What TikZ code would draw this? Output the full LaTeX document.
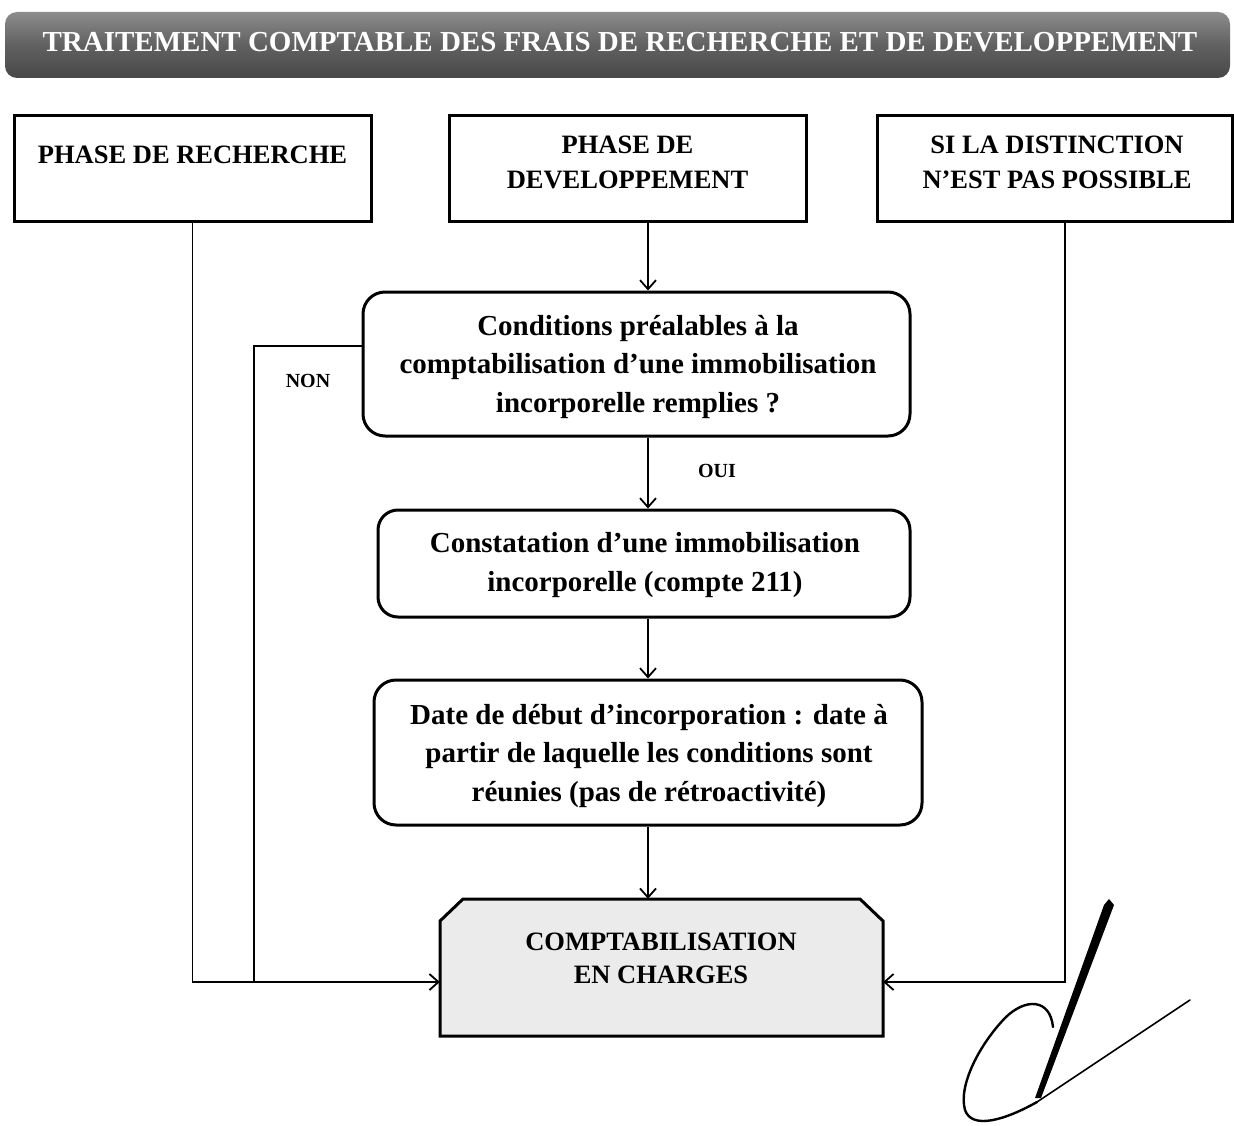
\documentclass[tikz,border=0pt]{standalone}
\usepackage{fontspec}
\setmainfont{Liberation Serif}
\usetikzlibrary{arrows.meta}
\begin{document}
\begin{tikzpicture}[x=1pt,y=-1pt,
  boxline/.style={draw=black, line width=3pt},
  topbox/.style={boxline, rectangle, minimum width=357pt, minimum height=106pt, inner sep=0pt},
  toptext/.style={font=\fontsize{26.5}{35}\selectfont\bfseries, align=center, inner sep=0pt},
  roundbox/.style={boxline, rectangle, rounded corners=22pt, inner sep=0pt},
  bodytext/.style={font=\fontsize{29}{38.5}\selectfont\bfseries, align=center, inner sep=0pt},
  smalltext/.style={font=\fontsize{20}{24}\selectfont\bfseries, inner sep=0pt},
  conn/.style={draw=black, line width=1.8pt},
  arr/.style={conn, -{Straight Barb[length=9pt, width=16pt, line width=1.8pt]}}
]
\useasboundingbox (0,0) rectangle (1234,1126);
\fill[white] (0,0) rectangle (1234,1126);

% title banner
\shade[rounded corners=12pt, top color=black!45, bottom color=black!72, middle color=black!62]
  (5,12) rectangle (1230,78);
\node[font=\fontsize{29}{34}\selectfont\bfseries, text=white, inner sep=0pt] (title) at (620,42)
  {TRAITEMENT COMPTABLE DES FRAIS DE RECHERCHE ET DE DEVELOPPEMENT};

% top boxes
\node[topbox] (b1) at (192.5,169) {};
\node[toptext] (t1) at (192.5,155) {PHASE DE RECHERCHE};
\node[topbox] (b2) at (627.5,169) {};
\node[toptext] (t2) at (627.5,162) {PHASE DE\\DEVELOPPEMENT};
\node[topbox, minimum width=355pt] (b3) at (1054.5,169) {};
\node[toptext] (t3) at (1057,162) {SI LA DISTINCTION\\N'EST PAS POSSIBLE};

\coordinate (col) at (648,0);

% conditions box
\node[roundbox, minimum width=547pt, minimum height=144pt] (cond) at (636.5,364) {};
\node[bodytext] (condt) at (638,367) {Conditions préalables à la\\comptabilisation d'une immobilisation\\incorporelle remplies ?};

% constatation box
\node[roundbox, rounded corners=20pt, minimum width=532pt, minimum height=107pt] (cons) at (644,563.5) {};
\node[bodytext] (const) at (645,565) {Constatation d'une immobilisation\\incorporelle (compte 211)};

% date box
\node[roundbox, minimum width=548pt, minimum height=145pt] (date) at (648,752.5) {};
\node[bodytext] (datet) at (649,756) {Date de début d'incorporation : date à\\partir de laquelle les conditions sont\\réunies (pas de rétroactivité)};

% comptabilisation box (chamfered top corners)
\filldraw[boxline, fill=black!8, line join=miter]
  (440,1036) -- (440,921) -- (463,899) -- (860,899) -- (883,921) -- (883,1036) -- cycle;
\node[rectangle, minimum width=443pt, minimum height=137pt, inner sep=0pt] (cpt) at (661.5,967.5) {};
\node[toptext, font=\fontsize{26.5}{33}\selectfont\bfseries] (cptt) at (661,958) {COMPTABILISATION\\EN CHARGES};

\coordinate (low) at (0,982);

% vertical flow
\draw[arr] (b2.south -| col) -- (cond.north -| col);
\draw[arr] (cond.south -| col) -- (cons.north -| col);
\node[smalltext] (oui) at (717,471) {OUI};
\draw[arr] (cons.south -| col) -- (date.north -| col);
\draw[arr] (date.south -| col) -- (cpt.north -| col);

% left branch
\draw[arr] (b1.south) -- (b1.south |- low) -- (cpt.west |- low);
\coordinate (nonx) at (254,0);
\draw[conn] (cond.west |- 0,346) -- (nonx |- 0,346) -- (nonx |- low);
\node[smalltext] (non) at (308,381) {NON};

% right branch
\coordinate (rx) at (1065,0);
\draw[arr] (b3.south -| rx) -- (rx |- low) -- (cpt.east |- low);

% signature
\fill[black] (1104,905) -- (1109,899) -- (1114,905) -- (1041,1098) -- (1035,1098) -- cycle;
\draw[line width=2.4pt, line cap=round]
  (1053,1027) .. controls (1050,998) and (1025,998) .. (1005,1018)
  .. controls (980,1044) and (958,1085) .. (965,1110)
  .. controls (972,1130) and (1005,1120) .. (1037,1102);
\draw[line width=1.6pt, line cap=round] (1037,1102) -- (1190,1000);
\end{tikzpicture}
\end{document}
